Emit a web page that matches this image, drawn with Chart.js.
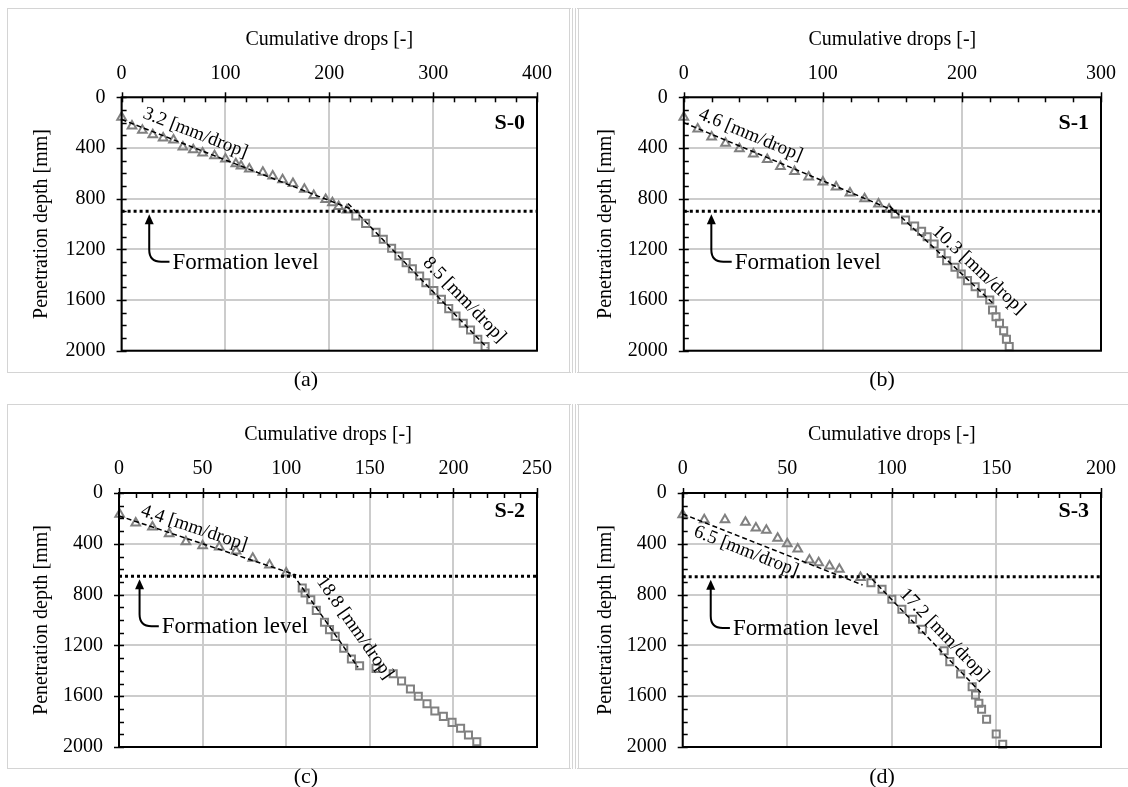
<!DOCTYPE html>
<html>
<head>
<meta charset="utf-8">
<script src="https://cdn.jsdelivr.net/npm/chart.js@4.4.1/dist/chart.umd.min.js"></script>
<style>
body{margin:0;background:#fff;}
#page{position:relative;width:1128px;height:787px;overflow:hidden;background:#fff;font-family:'Liberation Serif','Times New Roman',serif;}
.frame{position:absolute;border:1px solid #d4d4d4;box-sizing:border-box;}
.cap{position:absolute;width:60px;text-align:center;font-size:22px;line-height:24px;color:#000;}
canvas{position:absolute;}
</style>
</head>
<body>
<div id="page">
  <div class="frame" style="left:7px;top:8px;width:566px;height:365px;border-right:4px double #d4d4d4;"></div>
  <div class="frame" style="left:575px;top:8px;width:570px;height:365px;border-left:4px double #d4d4d4;"></div>
  <div class="frame" style="left:7px;top:404px;width:566px;height:365px;border-right:4px double #d4d4d4;"></div>
  <div class="frame" style="left:575px;top:404px;width:570px;height:365px;border-left:4px double #d4d4d4;"></div>
  <canvas id="c0" width="564" height="393" style="left:0;top:0;"></canvas>
  <canvas id="c1" width="564" height="393" style="left:564px;top:0;"></canvas>
  <canvas id="c2" width="564" height="394" style="left:0;top:393px;"></canvas>
  <canvas id="c3" width="564" height="394" style="left:564px;top:393px;"></canvas>
  <div class="cap" style="left:276px;top:367px;">(a)</div>
  <div class="cap" style="left:852px;top:367px;">(b)</div>
  <div class="cap" style="left:276px;top:764px;">(c)</div>
  <div class="cap" style="left:852px;top:764px;">(d)</div>
</div>
<script>
// axis ranges and labels
var xMaxes = [400, 300, 250, 200];
var xSteps = [100, 100, 50, 50];
var xMinorSteps = [20, 20, 10, 10];
var depthMax = 2000;
var depthStep = 400;
var depthMinor = 100;
var specimens = ['S-0', 'S-1', 'S-2', 'S-3'];
var formationDepth = [900, 900, 655, 660];
var rateUpper = [3.2, 4.6, 4.4, 6.5];
var rateLower = [8.5, 10.3, 18.8, 17.2];

// S-0
var s0TriDrops = [0, 10, 20, 30, 40, 50, 59, 69, 78, 89.5, 100, 110, 115, 123, 136, 145.5, 155, 165, 176, 185, 196.5, 203, 209, 217];
var s0TriDepth = [158, 226, 260, 295, 322, 338, 392, 414, 440, 462, 487, 524, 542, 566, 592, 622, 650, 680, 725, 775, 806, 832, 862, 889];
var s0SqDrops = [225.5, 235, 245, 252, 260, 267, 274, 280, 287, 293, 300.7, 308, 315, 322, 329, 336, 343, 350];
var s0SqDepth = [937, 995, 1066, 1121, 1192, 1253, 1305, 1353, 1411, 1463, 1526, 1595, 1668, 1726, 1784, 1837, 1910, 1968];
var s0FitUpDrops = [0, 222], s0FitUpDepth = [175, 885];
var s0FitLowDrops = [218, 352], s0FitLowDepth = [838, 1977];

// S-1
var s1TriDrops = [0, 10, 20, 30, 40, 50, 60, 69.5, 79.6, 89.8, 100, 109.5, 119.5, 130, 140, 147.6];
var s1TriDepth = [158, 250, 314, 363, 406, 447, 490, 546, 586, 630, 668, 708, 756, 800, 842, 884];
var s1SqDrops = [152, 159.5, 166, 171, 175, 180, 185, 189, 195, 199.5, 204, 209.5, 214, 220, 222, 224.5, 227, 230, 232, 234];
var s1SqDepth = [921, 968, 1016, 1058, 1100, 1158, 1232, 1290, 1342, 1395, 1447, 1495, 1547, 1600, 1679, 1732, 1784, 1842, 1910, 1968];
var s1FitUpDrops = [0, 152], s1FitUpDepth = [200, 899];
var s1FitLowDrops = [148, 222], s1FitLowDepth = [859, 1622];

// S-2
var s2TriDrops = [0.4, 10, 20, 30, 40, 50, 60, 70, 80, 90, 100];
var s2TriDepth = [168, 236, 268, 320, 383, 415, 425, 457, 514, 567, 630];
var s2SqDrops = [109.6, 111.3, 114.7, 118, 122.9, 125.9, 129.3, 134.4, 139, 143.9, 153.7, 164, 169, 174.3, 179, 184.2, 188.9, 194, 199.2, 204.3, 209, 214];
var s2SqDepth = [748, 787, 840, 924, 1018, 1076, 1129, 1223, 1307, 1360, 1381, 1423, 1480, 1543, 1601, 1659, 1717, 1759, 1806, 1853, 1906, 1958];
var s2FitUpDrops = [0, 106], s2FitUpDepth = [180, 646];
var s2FitLowDrops = [104, 143], s2FitLowDepth = [640, 1373];

// S-3
var s3TriDrops = [0, 10.3, 20.2, 30, 35, 40, 45.4, 50, 55, 60.6, 65, 70.2, 74.9, 85];
var s3TriDepth = [171, 210, 210, 231, 276, 294, 357, 399, 441, 528, 549, 575, 601, 665];
var s3SqDrops = [90, 95.3, 100, 104.8, 109.9, 114.6, 125, 127.7, 132.9, 138.4, 140, 141.6, 142.9, 145.3, 149.9, 153];
var s3SqDepth = [706, 758, 837, 916, 994, 1073, 1242, 1328, 1425, 1525, 1591, 1656, 1703, 1782, 1898, 1979];
var s3FitUpDrops = [0, 86], s3FitUpDepth = [165, 724];
var s3FitLowDrops = [88, 142.5], s3FitLowDepth = [634, 1571];

var serif = "'Liberation Serif', 'Times New Roman', serif";
Chart.defaults.font.family = serif;
Chart.defaults.color = '#000';

function pts(xs, ys) {
    return xs.map(function (v, i) { return {x: v, y: ys[i]}; });
}

// layout of each panel inside its canvas
var frames = [
    {id: 'c0', yW: 121.6, xH: 97.3, padR: 25, padB: 42.3, xTitlePad: 28, xTickPad: 12, sY: 26},
    {id: 'c1', yW: 119.8, xH: 97.3, padR: 25.3, padB: 42.3, xTitlePad: 28, xTickPad: 12, sY: 26},
    {id: 'c2', yW: 119, xH: 100, padR: 25.5, padB: 40, xTitlePad: 30, xTickPad: 12, sY: 18},
    {id: 'c3', yW: 118.7, xH: 100, padR: 25.5, padB: 40, xTitlePad: 30, xTickPad: 12, sY: 18}
];

// annotation anchors (data units)
var notes = [
    {arrowX: 26.6, textX: 49, textY: 1298, up: [71, 282], low: [330, 1600]},
    {arrowX: 19.8, textX: 36.6, textY: 1298, up: [48, 298], low: [212, 1363]},
    {arrowX: 12.3, textX: 25.6, textY: 1050, up: [45, 276], low: [141, 1063]},
    {arrowX: 13.4, textX: 24, textY: 1063, up: [30.3, 460], low: [125, 1116]}
];

var series = [
    [s0TriDrops, s0TriDepth, s0SqDrops, s0SqDepth, s0FitUpDrops, s0FitUpDepth, s0FitLowDrops, s0FitLowDepth],
    [s1TriDrops, s1TriDepth, s1SqDrops, s1SqDepth, s1FitUpDrops, s1FitUpDepth, s1FitLowDrops, s1FitLowDepth],
    [s2TriDrops, s2TriDepth, s2SqDrops, s2SqDepth, s2FitUpDrops, s2FitUpDepth, s2FitLowDrops, s2FitLowDepth],
    [s3TriDrops, s3TriDepth, s3SqDrops, s3SqDepth, s3FitUpDrops, s3FitUpDepth, s3FitLowDrops, s3FitLowDepth]
];

var deco = {
    id: 'deco',
    afterDatasetsDraw: function (chart, args, o) {
        var ctx = chart.ctx, a = chart.chartArea, x = chart.scales.x, y = chart.scales.y;
        ctx.save();
        ctx.strokeStyle = '#000';
        ctx.fillStyle = '#000';
        // tick marks on the top and left axes
        ctx.lineWidth = 1.5;
        for (var v = 0; v <= o.xMax + 0.001; v += o.xMinor) {
            var px = Math.round(x.getPixelForValue(v)) + 0.5;
            var major = Math.abs(v / o.xStep - Math.round(v / o.xStep)) < 1e-6;
            ctx.beginPath();
            ctx.moveTo(px, a.top - (major ? 5 : 0));
            ctx.lineTo(px, a.top + 5);
            ctx.stroke();
        }
        for (var d = 0; d <= depthMax; d += depthMinor) {
            var py = Math.round(y.getPixelForValue(d)) + 0.5;
            var maj = d % depthStep === 0;
            ctx.beginPath();
            ctx.moveTo(a.left - (maj ? 5 : 0), py);
            ctx.lineTo(a.left + 5, py);
            ctx.stroke();
        }
        // plot frame
        ctx.lineWidth = 2;
        ctx.strokeRect(a.left, a.top, a.right - a.left, a.bottom - a.top);

        // formation level arrow and text
        var n = o.note;
        var ax = x.getPixelForValue(n.arrowX);
        var tip = y.getPixelForValue(o.form) + 3;
        var ty = y.getPixelForValue(n.textY);
        var tx = x.getPixelForValue(n.textX);
        ctx.lineWidth = 2;
        ctx.beginPath();
        ctx.moveTo(ax, tip + 8);
        ctx.lineTo(ax, ty - 12);
        ctx.quadraticCurveTo(ax, ty, ax + 12, ty);
        ctx.lineTo(tx - 3, ty);
        ctx.stroke();
        ctx.beginPath();
        ctx.moveTo(ax, tip);
        ctx.lineTo(ax - 4.5, tip + 10);
        ctx.lineTo(ax + 4.5, tip + 10);
        ctx.closePath();
        ctx.fill();
        ctx.font = '23px ' + serif;
        ctx.textAlign = 'left';
        ctx.textBaseline = 'middle';
        ctx.fillText('Formation level', tx, ty + 1);

        // rate labels along the fitted lines
        [[n.up, o.rates[0]], [n.low, o.rates[1]]].forEach(function (r) {
            var cx = x.getPixelForValue(r[0][0]), cy = y.getPixelForValue(r[0][1]);
            var dx = x.getPixelForValue(10) - x.getPixelForValue(0);
            var dy = y.getPixelForValue(r[1] * 10) - y.getPixelForValue(0);
            ctx.save();
            ctx.translate(cx, cy);
            ctx.rotate(Math.atan2(dy, dx));
            ctx.font = '19px ' + serif;
            ctx.textAlign = 'center';
            ctx.textBaseline = 'middle';
            ctx.fillText(r[1].toFixed(1) + ' [mm/drop]', 0, 0);
            ctx.restore();
        });

        // specimen label
        ctx.font = 'bold 22px ' + serif;
        ctx.textAlign = 'right';
        ctx.textBaseline = 'middle';
        ctx.fillText(o.name, a.right - 12, a.top + o.sY);
        ctx.restore();
    }
};

function plain(v) { return String(v); }

frames.forEach(function (f, i) {
    var s = series[i];
    var markerStyle = {borderColor: '#808080', backgroundColor: 'rgba(255,255,255,0)', borderWidth: 2, pointRadius: 5, showLine: false, clip: false};
    var datasets = [
        {data: pts(s[4], s[5]), showLine: true, borderColor: '#000', borderWidth: 1.5, borderDash: [5, 3], pointRadius: 0, order: 1},
        {data: pts(s[6], s[7]), showLine: true, borderColor: '#000', borderWidth: 1.5, borderDash: [5, 3], pointRadius: 0, order: 1},
        {data: pts([0, xMaxes[i]], [formationDepth[i], formationDepth[i]]), showLine: true, borderColor: '#000', borderWidth: 3, borderDash: [3, 3], pointRadius: 0, order: 0},
        Object.assign({data: pts(s[0], s[1]), pointStyle: 'triangle', order: 2}, markerStyle),
        Object.assign({data: pts(s[2], s[3]), pointStyle: 'rect', order: 2}, markerStyle)
    ];
    new Chart(document.getElementById(f.id), {
        type: 'scatter',
        data: {datasets: datasets},
        options: {
            responsive: false,
            animation: false,
            devicePixelRatio: 1,
            layout: {padding: {left: 0, top: 0, right: f.padR, bottom: f.padB}},
            plugins: {
                legend: {display: false},
                tooltip: {enabled: false},
                deco: {xMax: xMaxes[i], xStep: xSteps[i], xMinor: xMinorSteps[i], form: formationDepth[i],
                       note: notes[i], rates: [rateUpper[i], rateLower[i]], name: specimens[i], sY: f.sY}
            },
            scales: {
                x: {
                    type: 'linear', position: 'top', min: 0, max: xMaxes[i],
                    ticks: {stepSize: xSteps[i], font: {size: 20}, color: '#000', padding: f.xTickPad, maxRotation: 0, callback: plain},
                    grid: {color: '#cccccc', lineWidth: 2, drawTicks: false},
                    border: {display: false},
                    title: {display: true, text: 'Cumulative drops [-]', font: {size: 20}, color: '#000', padding: {top: f.xTitlePad, bottom: 0}},
                    afterFit: function (sc) { sc.height = f.xH; }
                },
                y: {
                    type: 'linear', reverse: true, min: 0, max: depthMax,
                    ticks: {stepSize: depthStep, font: {size: 20}, color: '#000', padding: 16, callback: plain},
                    grid: {color: '#cccccc', lineWidth: 2, drawTicks: false},
                    border: {display: false},
                    title: {display: true, text: 'Penetration depth [mm]', font: {size: 20}, color: '#000', padding: {top: 30, bottom: 0}},
                    afterFit: function (sc) { sc.width = f.yW; }
                }
            }
        },
        plugins: [deco]
    });
});
</script>
</body>
</html>
